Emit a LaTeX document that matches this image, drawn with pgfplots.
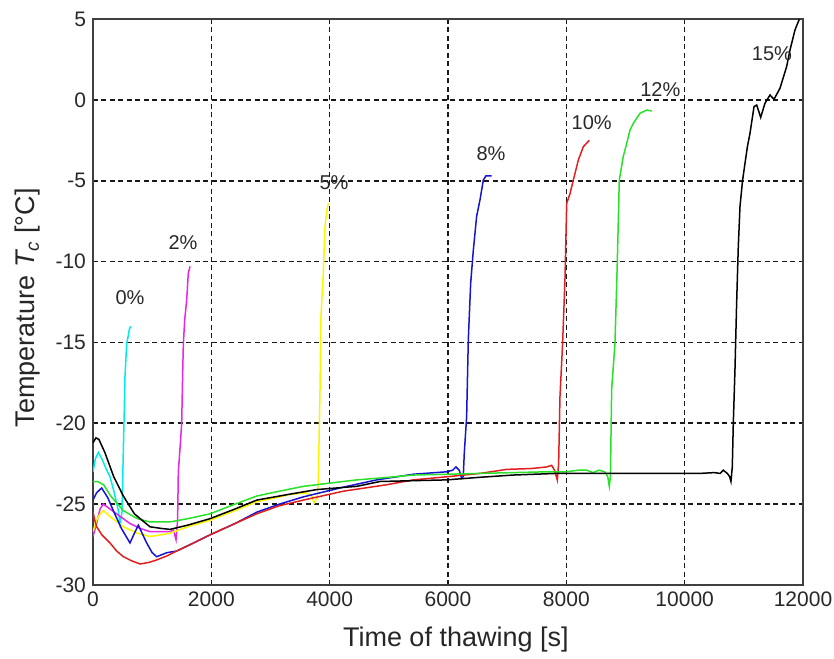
\documentclass[border=0pt]{standalone}
\usepackage{fontspec}
\setmainfont{Liberation Sans}
\usepackage{pgfplots}
\pgfplotsset{compat=1.18}
\definecolor{lbl}{RGB}{40,40,40}
\definecolor{mgreen}{RGB}{40,225,40}
\definecolor{mblue}{RGB}{20,20,210}
\definecolor{mred}{RGB}{225,30,30}
\definecolor{mcyan}{RGB}{0,235,235}
\definecolor{mmag}{RGB}{230,40,230}
\definecolor{myel}{RGB}{250,245,0}

\begin{document}
\begin{tikzpicture}
\begin{axis}[
  scale only axis, width=355pt, height=283pt,
  xmin=0, xmax=12000, ymin=-30, ymax=5,
  xtick={0,2000,...,12000}, ytick={-30,-25,...,5},
  scaled x ticks=false,
  /pgf/number format/assume math mode=true,
  /pgf/number format/1000 sep={},
  tick label style={font=\fontsize{10.5}{12}\selectfont, text=lbl},
  label style={font=\fontsize{13.5}{16}\selectfont, text=black!85},
  xlabel={Time of thawing [s]},
  ylabel={Temperature \textit{T\textsubscript{c}} [°C]},
  xlabel style={at={(rel axis cs:0.511,-0.097)}, anchor=center},
  ylabel style={at={(rel axis cs:-0.092,0.49)}, anchor=center},
  grid=major,
  grid style={black!90, line width=0.8pt, dash pattern=on 2.5pt off 1.75pt},
  axis line style={black!75, line width=0.7pt},
  major tick length=0pt,
  every axis plot/.append style={line width=0.75pt},
]
% 0%
\addplot[mcyan] coordinates {
(0,-23.0)(40,-22.2)(90,-21.8)(150,-22.2)(220,-22.8)(287,-23.3)(360,-24.3)(428,-25.4)
(456,-26.2)(490,-25.5)(513,-21.6)(530,-19.0)(541,-17.1)(569,-15.1)(600,-14.5)(614,-14.2)(637,-14.0)};
% 2%
\addplot[mmag] coordinates {
(0,-27.0)(60,-26.2)(120,-25.3)(174,-25.0)(250,-25.2)(400,-25.6)(625,-26.2)(800,-26.5)
(963,-26.7)(1150,-26.7)(1301,-26.7)(1360,-26.6)(1403,-27.2)(1430,-26.0)(1442,-23.0)
(1470,-21.6)(1499,-20.0)(1515,-17.0)(1527,-15.1)(1550,-13.6)(1583,-12.4)(1611,-10.7)(1640,-10.3)};
% 5%
\addplot[myel] coordinates {
(0,-26.7)(60,-26.0)(120,-25.6)(174,-25.4)(300,-25.8)(513,-26.4)(750,-26.8)(963,-27.0)
(1150,-26.9)(1301,-26.8)(1600,-26.4)(1977,-26.0)(2400,-25.4)(2766,-24.85)(3100,-24.6)
(3330,-24.4)(3600,-24.3)(3700,-24.5)(3735,-24.95)(3790,-24.6)(3808,-23.5)(3837,-17.9)
(3853,-13.4)(3865,-12.5)(3893,-10.7)(3921,-7.85)(3950,-6.9)(3977,-6.4)};
% 8%
\addplot[mblue] coordinates {
(0,-24.75)(60,-24.3)(146,-24.0)(250,-24.6)(343,-25.4)(480,-26.5)(625,-27.4)(700,-26.8)
(766,-26.3)(830,-26.8)(907,-27.4)(1000,-28.0)(1076,-28.25)(1250,-28.0)(1414,-27.9)
(1700,-27.4)(1977,-26.9)(2400,-26.2)(2766,-25.5)(3150,-25.0)(3555,-24.55)(4231,-23.95)
(4794,-23.5)(5414,-23.15)(5977,-23.0)(6080,-22.9)(6134,-22.7)(6190,-22.9)(6230,-23.4)
(6258,-23.3)(6275,-21.85)(6315,-19.6)(6343,-14.85)(6383,-11.35)(6428,-9.3)(6484,-7.2)
(6540,-6.2)(6597,-4.96)(6642,-4.7)(6738,-4.7)};
% 10%
\addplot[mred] coordinates {
(0,-25.5)(30,-26.0)(62,-26.4)(150,-26.9)(287,-27.4)(400,-27.9)(513,-28.25)(650,-28.5)
(794,-28.7)(950,-28.6)(1076,-28.45)(1250,-28.2)(1414,-27.9)(1700,-27.4)(1977,-26.9)
(2400,-26.2)(2766,-25.6)(3150,-25.1)(3555,-24.75)(4231,-24.2)(4963,-23.8)(5414,-23.5)
(6000,-23.3)(6541,-23.1)(6992,-22.85)(7400,-22.8)(7668,-22.7)(7752,-22.6)(7800,-22.9)
(7847,-23.5)(7870,-22.5)(7892,-18.4)(7937,-15.06)(7977,-11.1)(8006,-6.4)(8062,-5.8)
(8118,-4.96)(8203,-3.72)(8287,-2.9)(8389,-2.5)};
% 12%
\addplot[mgreen] coordinates {
(0,-23.6)(80,-23.6)(180,-23.8)(300,-24.5)(513,-25.4)(750,-25.9)(963,-26.1)(1301,-26.1)
(1600,-25.9)(1977,-25.6)(2400,-25.0)(2766,-24.5)(3150,-24.2)(3555,-23.9)(4000,-23.7)
(4456,-23.5)(4963,-23.35)(5414,-23.2)(6000,-23.15)(6541,-23.1)(7100,-23.05)(7668,-23.0)
(8000,-23.0)(8200,-22.9)(8344,-22.9)(8450,-23.05)(8550,-22.9)(8650,-23.0)(8700,-23.3)
(8726,-23.9)(8745,-23.3)(8766,-17.9)(8822,-15.06)(8861,-10.1)(8895,-4.96)(8962,-3.5)
(9020,-2.7)(9076,-1.86)(9132,-1.45)(9245,-0.83)(9358,-0.63)(9442,-0.69)};
% 15%
\addplot[black] coordinates {
(0,-21.2)(50,-20.9)(100,-21.0)(200,-21.8)(350,-23.3)(513,-24.5)(700,-25.6)(963,-26.4)
(1150,-26.5)(1301,-26.56)(1600,-26.3)(1977,-25.9)(2400,-25.3)(2766,-24.75)(3300,-24.4)
(3780,-24.1)(4456,-23.9)(4850,-23.6)(5400,-23.55)(5977,-23.5)(6500,-23.35)(7100,-23.2)
(7836,-23.1)(8500,-23.1)(9500,-23.1)(10259,-23.1)(10500,-23.05)(10600,-23.1)(10653,-22.9)
(10720,-23.1)(10760,-23.3)(10782,-23.6)(10805,-22.7)(10822,-20.0)(10850,-16.7)(10878,-12.6)
(10906,-9.1)(10935,-6.6)(10979,-4.96)(11060,-2.9)(11104,-2.07)(11172,-0.42)(11217,-0.32)
(11285,-1.08)(11357,-0.21)(11442,0.30)(11509,0.03)(11610,0.71)(11723,2.05)(11780,3.08)
(11864,4.32)(11937,4.98)};
\begin{scope}[every node/.style={font=\fontsize{10}{12}\selectfont, text=lbl}]
\node at (axis cs:625,-12.2) {0\%};
\node at (axis cs:1521,-8.8) {2\%};
\node at (axis cs:4073,-5.12) {5\%};
\node at (axis cs:6726,-3.35) {8\%};
\node at (axis cs:8428,-1.4) {10\%};
\node at (axis cs:9588,0.61) {12\%};
\node at (axis cs:11476,2.88) {15\%};
\end{scope}
\coordinate (ll) at (rel axis cs:0,0);
\coordinate (ur) at (rel axis cs:1,1);
\end{axis}
\pgfresetboundingbox
\path[use as bounding box] ([shift={(-46.5pt,-36.5pt)}]ll) rectangle ([shift={(15.5pt,9.5pt)}]ur);
\end{tikzpicture}
\end{document}
